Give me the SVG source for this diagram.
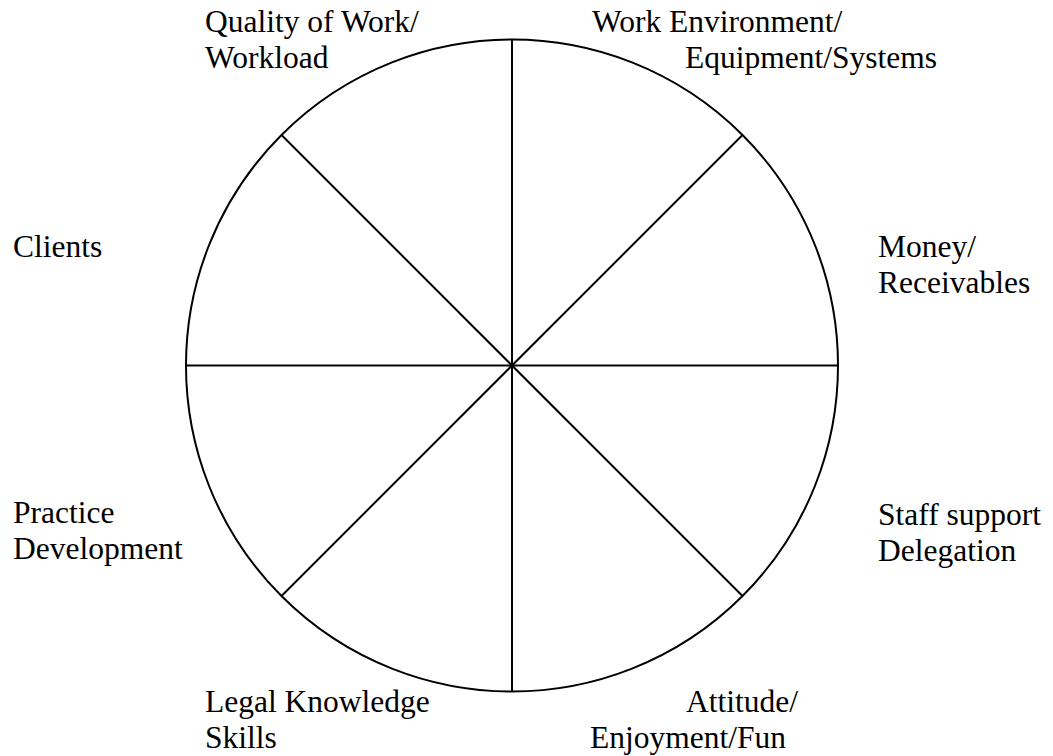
<svg xmlns="http://www.w3.org/2000/svg" width="1053" height="756" viewBox="0 0 1053 756">
<style>
text{font-family:"Liberation Serif","Times New Roman",serif;font-size:31.5px;fill:#000}
.ln{stroke:#000;stroke-width:2;fill:none}
</style>
<rect width="1053" height="756" fill="#fff"/>
<g id="wheel">
<circle class="ln" cx="512" cy="365.5" r="326"/>
</g>
<g id="connectors">
<line class="ln" x1="512" y1="39.5" x2="512" y2="691.5"/>
<line class="ln" x1="186" y1="365.5" x2="838" y2="365.5"/>
<line class="ln" x1="281.5" y1="135" x2="742.5" y2="596"/>
<line class="ln" x1="742.5" y1="135" x2="281.5" y2="596"/>
</g>
<g id="quality"><text x="205" y="32">Quality of Work/</text><text x="205" y="68">Workload</text></g>
<g id="environment"><text x="592" y="32">Work Environment/</text><text x="685" y="68">Equipment/Systems</text></g>
<g id="clients"><text x="13" y="257">Clients</text></g>
<g id="money"><text x="878" y="257">Money/</text><text x="878" y="293">Receivables</text></g>
<g id="practice"><text x="13" y="523">Practice</text><text x="13" y="559">Development</text></g>
<g id="staff"><text x="878" y="525">Staff support</text><text x="878" y="561">Delegation</text></g>
<g id="legal"><text x="205" y="712">Legal Knowledge</text><text x="205" y="748">Skills</text></g>
<g id="attitude"><text x="686" y="712">Attitude/</text><text x="590" y="748">Enjoyment/Fun</text></g>
</svg>
